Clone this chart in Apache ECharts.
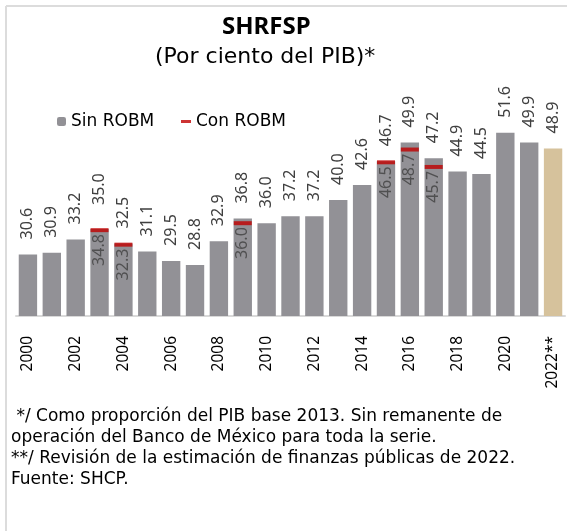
<!DOCTYPE html>
<html>
<head>
<meta charset="utf-8">
<script src="https://cdn.jsdelivr.net/npm/echarts@6/dist/echarts.min.js"></script>
<style>
    html, body { margin: 0; padding: 0; background: #fff; }
    #main { width: 567px; height: 531px; }
</style>
</head>
<body>
<div id="main"></div>
<script>
    // datos
    var years = ['2000', '2001', '2002', '2003', '2004', '2005', '2006', '2007', '2008', '2009', '2010', '2011',
        '2012', '2013', '2014', '2015', '2016', '2017', '2018', '2019', '2020', '2021', '2022**'];
    var barValues = [30.6, 30.9, 33.2, 35.0, 32.5, 31.1, 29.5, 28.8, 32.9, 36.8, 36.0, 37.2,
        37.2, 40.0, 42.6, 46.7, 49.9, 47.2, 44.9, 44.5, 51.6, 49.9, 48.9];
    var markValues = [null, null, null, 34.8, 32.3, null, null, null, null, 36.0, null, null,
        null, null, null, 46.5, 48.7, 45.7, null, null, null, null, null];
    var footnote = ' */ Como proporción del PIB base 2013. Sin remanente de\n' +
        'operación del Banco de México para toda la serie.\n' +
        '**/ Revisión de la estimación de finanzas públicas de 2022.\n' +
        'Fuente: SHCP.';

    var FONT = 'Noto Sans';
    var NOTE_FONT = 'DejaVu Sans';
    var GRAY = '#929196';
    var TAN = '#d6c29c';
    var RED = '#c00000';

    var barData = barValues.map(function (v, i) {
        var item = { value: v };
        if (i === barValues.length - 1) item.itemStyle = { color: TAN };
        if (years[i] === '2003') item.label = { distance: 24 };
        return item;
    });

    var myChart = echarts.init(document.getElementById('main'));
    var option = {
        animation: false,
        textStyle: { fontFamily: FONT },
        title: [
            {
                text: footnote,
                left: 6,
                top: 401,
                textStyle: { fontFamily: NOTE_FONT, fontSize: 17, fontWeight: 'normal', color: '#000', lineHeight: 21 }
            }
        ],
        legend: [
            {
                data: ['Sin ROBM'],
                left: 52,
                top: 108,
                itemWidth: 9,
                itemHeight: 9,
                textStyle: { fontFamily: NOTE_FONT, fontSize: 17, color: '#000' }
            },
            {
                data: ['Con ROBM'],
                left: 176,
                top: 108,
                itemWidth: 10,
                itemHeight: 3,
                textStyle: { fontFamily: NOTE_FONT, fontSize: 17, color: '#000' }
            }
        ],
        graphic: [
            { type: 'line', shape: { x1: 6, y1: 6, x2: 567, y2: 6 }, style: { stroke: '#dcdcdc', lineWidth: 2 } },
            { type: 'line', shape: { x1: 6, y1: 6, x2: 6, y2: 531 }, style: { stroke: '#dcdcdc', lineWidth: 2 } },
            {
                type: 'text', left: 222, top: 15,
                style: { text: 'SHRFSP', font: 'bold 24px "Noto Sans"', fill: '#000' }
            },
            {
                type: 'text', left: 155, top: 46,
                style: { text: '(Por ciento del PIB)*', font: '22px "DejaVu Sans"', fill: '#000' }
            }
        ],
        grid: { left: 16, right: 2, top: 84, bottom: 215 },
        xAxis: {
            type: 'category',
            data: years,
            axisLine: { lineStyle: { color: '#d9d9d9', width: 2 } },
            axisTick: { show: false },
            axisLabel: {
                interval: 1,
                rotate: 90,
                margin: 20,
                fontFamily: FONT,
                fontSize: 15.5,
                color: '#000'
            }
        },
        yAxis: {
            type: 'value',
            min: 20,
            max: 60,
            show: false,
            splitLine: { show: false }
        },
        series: [
            {
                name: 'Sin ROBM',
                type: 'bar',
                data: barData,
                barCategoryGap: '23%',
                itemStyle: { color: GRAY },
                label: {
                    show: true,
                    position: 'top',
                    rotate: 90,
                    align: 'left',
                    verticalAlign: 'middle',
                    distance: 15,
                    fontFamily: FONT,
                    fontSize: 16,
                    color: '#404040',
                    formatter: function (p) { return p.value.toFixed(1); }
                }
            },
            {
                name: 'Con ROBM',
                type: 'scatter',
                data: markValues,
                symbol: 'rect',
                symbolSize: [18, 4],
                itemStyle: { color: RED },
                z: 3,
                label: {
                    show: true,
                    position: 'bottom',
                    rotate: 90,
                    align: 'right',
                    verticalAlign: 'middle',
                    distance: 2,
                    fontFamily: FONT,
                    fontSize: 16,
                    color: '#404040',
                    formatter: function (p) { return p.value[1] != null ? p.value[1].toFixed(1) : p.value.toFixed(1); }
                }
            }
        ]
    };
    myChart.setOption(option, true);
</script>
</body>
</html>
